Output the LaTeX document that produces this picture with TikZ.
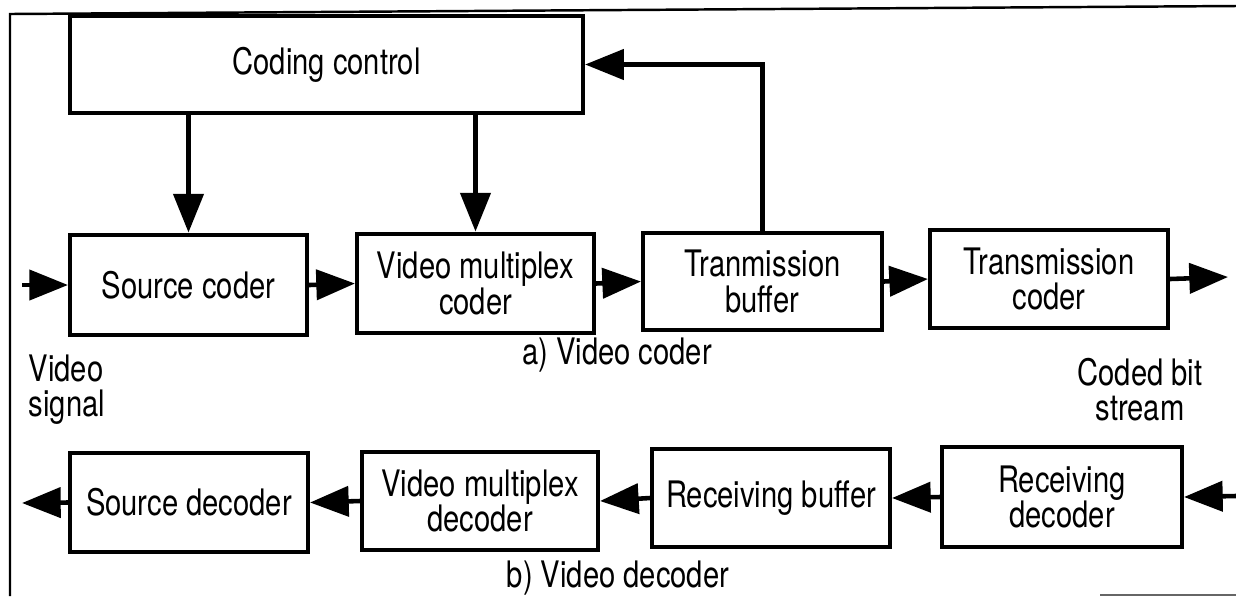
\documentclass[tikz,border=0pt]{standalone}
\usepackage{fontspec}
\setmainfont{TeX Gyre Heros}
\usetikzlibrary{positioning,arrows.meta,calc,shapes}
\tikzset{
    block/.style = {
        draw,
        shape=rectangle,
        line width=1.1pt,
        inner sep=1pt,
        align=center,
        yscale=1.25,
        transform shape,
        font=\fontsize{8.3}{8}\selectfont
    },
    caption/.style = {
        inner sep=0pt,
        yscale=1.25,
        transform shape,
        font=\fontsize{8.3}{8}\selectfont
    },
    flow/.style = {
        draw,
        line width=1.3pt
    },
    >={Triangle[length=11pt,width=8.5pt]},
}
\begin{document}
\begin{tikzpicture}[x=0.01cm,y=-0.01cm]
    \useasboundingbox (0,0) rectangle (1236,596);
    % frame
    \draw[line width=0.7pt] (10,596) -- (10,14) -- (1236,6);
    \draw[line width=0.5pt, black!60] (1100,595) -- (1236,595);

    % a) coder
    \node[block, minimum width=5.13cm, minimum height=0.776cm] (ctrl) at (326.5,64.5) {Coding control};
    \node[block, minimum width=2.37cm, minimum height=0.8cm] (srccoder) at (188.5,285) {Source coder};
    \node[block, minimum width=2.37cm, minimum height=0.792cm] (vmcoder) at (475.5,283.5) {Video multiplex\\coder};
    \node[block, minimum width=2.39cm, minimum height=0.776cm] (txbuf) at (762.5,281.5) {Tranmission\\buffer};
    \node[block, minimum width=2.38cm, minimum height=0.784cm] (txcoder) at (1049,279) {Transmission\\coder};
    \coordinate (vidin) at (22,285);
    \coordinate (bitout) at (1228,277);

    \path[flow, ->] (vidin) -- (srccoder.west);
    \path[flow, ->] (srccoder.east) -- (vmcoder.west);
    \path[flow, ->] (vmcoder.east) -- (txbuf.west);
    \path[flow, ->] (txbuf.east) -- (txcoder.west);
    \path[flow, ->] (txcoder.east) -- (bitout);
    \path[flow, ->] (srccoder.north |- ctrl.south) -- (srccoder.north);
    \path[flow, ->] (vmcoder.north |- ctrl.south) -- (vmcoder.north);
    \path[flow, ->] (txbuf.north) |- (ctrl.east);

    \node[caption] (coderlbl) at (617,355) {a) Video coder};
    \node[caption, anchor=west, align=left] (vidsig) at (28,390) {Video\\signal};
    \node[caption, align=center] (bitstream) at (1140,390) {Coded bit\\stream};

    % b) decoder
    \node[block, minimum width=2.38cm, minimum height=0.792cm] (srcdec) at (189,502.5) {Source decoder};
    \node[block, minimum width=2.36cm, minimum height=0.784cm] (vmdec) at (480,501) {Video multiplex\\decoder};
    \node[block, minimum width=2.38cm, minimum height=0.784cm] (rxbuf) at (771,498) {Receiving buffer};
    \node[block, minimum width=2.40cm, minimum height=0.8cm] (rxdec) at (1062,497) {Receiving\\decoder};
    \coordinate (bitin) at (1236,496);
    \coordinate (vidout) at (22,503);

    \path[flow, ->] (bitin) -- (rxdec.east);
    \path[flow, ->] (rxdec.west) -- (rxbuf.east);
    \path[flow, ->] (rxbuf.west) -- (vmdec.east);
    \path[flow, ->] (vmdec.west) -- (srcdec.east);
    \path[flow, ->] (srcdec.west) -- (vidout);

    \node[caption] (decoderlbl) at (618,578) {b) Video decoder};
\end{tikzpicture}
\end{document}
